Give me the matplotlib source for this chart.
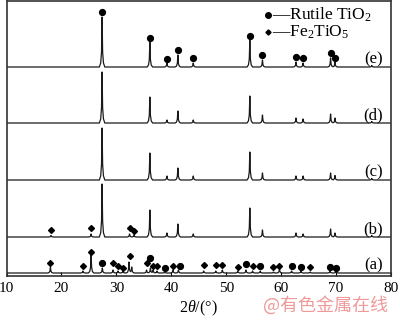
import numpy as np
import matplotlib
matplotlib.use('Agg')
import matplotlib.pyplot as plt

plt.rcParams['font.family'] = ['Liberation Serif', 'DejaVu Serif']
plt.rcParams['mathtext.fontset'] = 'custom'
plt.rcParams['mathtext.rm'] = 'Liberation Serif'
plt.rcParams['mathtext.it'] = 'Liberation Serif:italic'

# ---- data: peak tables (2theta, height above baseline)
labels = ['(a)', '(b)', '(c)', '(d)', '(e)']
baselines = [3, 39, 96, 153, 209]

rutile_pos = [27.4, 36.1, 39.2, 41.2, 44.0, 54.3, 56.6, 62.7, 64.0, 69.0, 69.8, 76.5]
h_e = [50, 25, 4, 12, 4, 27, 7, 5, 4, 9, 5, 1.5]
h_d = [51, 26, 3, 12, 3, 27, 8, 5, 4, 9, 5, 1.5]
h_c = [52, 27, 4, 12, 4, 28, 7, 4, 4, 7, 4.5, 1.5]
h_b = [53, 27, 4, 13, 3, 29, 7, 4, 3, 8, 4, 1.5]

fe_pos_b = [18.1, 25.4, 32.4, 33.2]
fe_h_b = [1.5, 3, 3, 2]

pos_a = [18.0, 23.9, 25.4, 27.45, 29.4, 30.3, 31.2, 32.3, 32.8, 35.5, 36.2, 36.7,
         37.4, 38.8, 40.3, 41.3, 45.9, 48.1, 49.3, 52.1, 53.6, 54.8, 56.2, 58.6,
         59.7, 61.9, 63.6, 65.3, 68.9, 70.0]
h_a = [6, 2, 18, 5, 3, 2, 2, 11, 6, 3, 5, 3,
       2, 1, 3, 3, 2, 2, 3, 2, 3, 2, 2, 1,
       4, 2, 2, 1, 2, 2]

# phase markers (2theta, y)
e_circ_x = [27.4, 36.1, 39.2, 41.2, 44.0, 54.3, 56.6, 62.7, 64.0, 69.0, 69.8]
e_circ_y = [264, 238, 217, 226, 218, 240, 221, 219, 218, 223, 218]
b_dia_x = [18.1, 25.4, 32.4, 33.2]
b_dia_y = [46, 48, 48, 45]
a_dia_x = [18.0, 23.9, 25.4, 29.4, 30.3, 31.2, 32.4, 35.5, 36.7, 37.4, 40.3,
           45.9, 48.1, 49.3, 52.1, 54.8, 58.6, 59.7, 65.3]
a_dia_y = [13, 10, 24, 13, 10, 8, 20, 13, 10, 10, 10,
           11, 11, 11, 9, 10, 9, 10, 9]
a_circ_x = [27.45, 36.2, 38.8, 41.6, 53.6, 56.2, 61.9, 63.6, 68.9, 70.0]
a_circ_y = [13, 18, 8, 10, 12, 10, 10, 9, 9, 8]

# peak profile shape (relative offsets / heights)
prof_dx = np.array([-1.0, -0.5, -0.2, 0.0, 0.2, 0.5, 1.0])
prof_dy = np.array([0.0, 0.08, 0.3, 1.0, 0.3, 0.08, 0.0])


def pattern(pos, h, base, w=0.5):
    xs = [10.0, 80.0]
    for p in pos:
        xs += list(p + w * prof_dx)
    xs = np.unique(xs)
    ys = np.full_like(xs, float(base))
    for p, hh in zip(pos, h):
        ys += np.interp(xs, p + w * prof_dx, hh * prof_dy, left=0, right=0)
    return xs, ys


fig = plt.figure(figsize=(4, 3.22), dpi=100)
ax = fig.add_axes([6.5 / 400, 46 / 322, 384.5 / 400, 275 / 322])

series = [
    (pos_a, h_a),
    (rutile_pos + fe_pos_b, h_b + fe_h_b),
    (rutile_pos, h_c),
    (rutile_pos, h_d),
    (rutile_pos, h_e),
]
for (pp, hh), base, lab in zip(series, baselines, labels):
    x, y = pattern(pp, hh, base)
    ax.plot(x, y, c='#1a1a1a', lw=0.9)
    ax.text(78.5, base + 8, lab, ha='right', va='center', fontsize=12)

ax.plot(e_circ_x, e_circ_y, 'o', c='k', ms=4.2, ls='none')
ax.plot(a_circ_x, a_circ_y, 'o', c='k', ms=4.2, ls='none')
ax.plot(b_dia_x, b_dia_y, 'D', c='k', ms=3, ls='none')
ax.plot(a_dia_x, a_dia_y, 'D', c='k', ms=3, ls='none')

# legend
ax.plot([57.6], [261], 'o', c='k', ms=4.0)
ax.plot([57.6], [244], 'D', c='k', ms=2.6)
ax.text(58.3, 261, '—Rutile TiO$_2$', va='center', ha='left', fontsize=12.5)
ax.text(58.3, 244, '—Fe$_2$TiO$_5$', va='center', ha='left', fontsize=12.5)

ax.set_xlim(10, 80)
ax.set_ylim(0, 275)
ax.set_yticks([])
ax.set_xticks([10, 20, 30, 40, 50, 60, 70, 80])
ax.tick_params(axis='x', direction='in', length=3, width=0.8, labelsize=11, pad=4)
for s in ax.spines.values():
    s.set_linewidth(1.2)
    s.set_color('#333333')
ax.set_xlabel(r'2$\it{\theta}$/(°)', fontsize=11.5, labelpad=3)

fig.text(0.8125, 0.053, '@有色金属在线', color='#ef9a9a', fontsize=13,
         ha='center', va='center', family=['Noto Sans CJK SC', 'DejaVu Sans'])

fig.savefig('out.png', dpi=100)
